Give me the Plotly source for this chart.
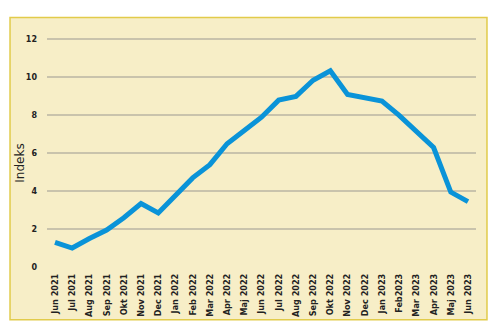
import plotly.graph_objects as go

months = ["Jun 2021","Jul 2021","Aug 2021","Sep 2021","Okt 2021","Nov 2021","Dec 2021",
          "Jan 2022","Feb 2022","Mar 2022","Apr 2022","Maj 2022","Jun 2022","Jul 2022",
          "Aug 2022","Sep 2022","Okt 2022","Nov 2022","Dec 2022","Jan 2023","Feb2023",
          "Mar 2023","Apr 2023","Maj 2023","Jun 2023"]
values = [1.3, 1.0, 1.5, 1.95, 2.6, 3.35, 2.85, 3.8, 4.7, 5.4, 6.5, 7.2, 7.9, 8.8,
          9.0, 9.85, 10.35, 9.1, 8.95, 8.75, 8.0, 7.15, 6.3, 3.95, 3.45]
yticks = [0, 2, 4, 6, 8, 10, 12]

fig = go.Figure()
fig.add_trace(go.Scatter(
    x=list(range(len(months))), y=values, mode="lines",
    line=dict(color="#0A93D8", width=5), hoverinfo="skip"))

fig.update_layout(
    width=500, height=336,
    margin=dict(l=47, r=24, t=29.5, b=69),
    paper_bgcolor="white", plot_bgcolor="rgba(0,0,0,0)",
    showlegend=False,
    xaxis=dict(
        tickmode="array", tickvals=list(range(len(months))), ticktext=months,
        tickangle=-90, range=[-0.465, 24.465], showgrid=False, zeroline=False,
        showline=False, ticks="", ticklabelstandoff=4,
        tickfont=dict(family="Liberation Sans Narrow, Arial Narrow, DejaVu Sans Condensed",
                      size=9, color="#222222", weight="bold"),
    ),
    yaxis=dict(
        range=[0, 12.5], tickvals=yticks, showgrid=True, gridcolor="#C9C3AC",
        gridwidth=1.5, zeroline=False, showline=False, ticks="",
        tickfont=dict(family="DejaVu Sans", size=8, color="#222222", weight="bold"),
        ticklabelstandoff=9,
    ),
    shapes=[dict(type="rect", xref="paper", yref="paper",
                 x0=-0.0862, x1=1.0256, y0=-0.223, y1=1.0526,
                 fillcolor="#F7EEC7", line=dict(color="#E2CB4A", width=1.5), layer="below")],
    annotations=[dict(text="Indeks", xref="paper", yref="paper", x=-0.063, y=0.44,
                      xanchor="center", yanchor="middle",
                      textangle=-90, showarrow=False,
                      font=dict(family="DejaVu Sans", size=12, color="#222222"))],
)

fig.write_html("out.html")
